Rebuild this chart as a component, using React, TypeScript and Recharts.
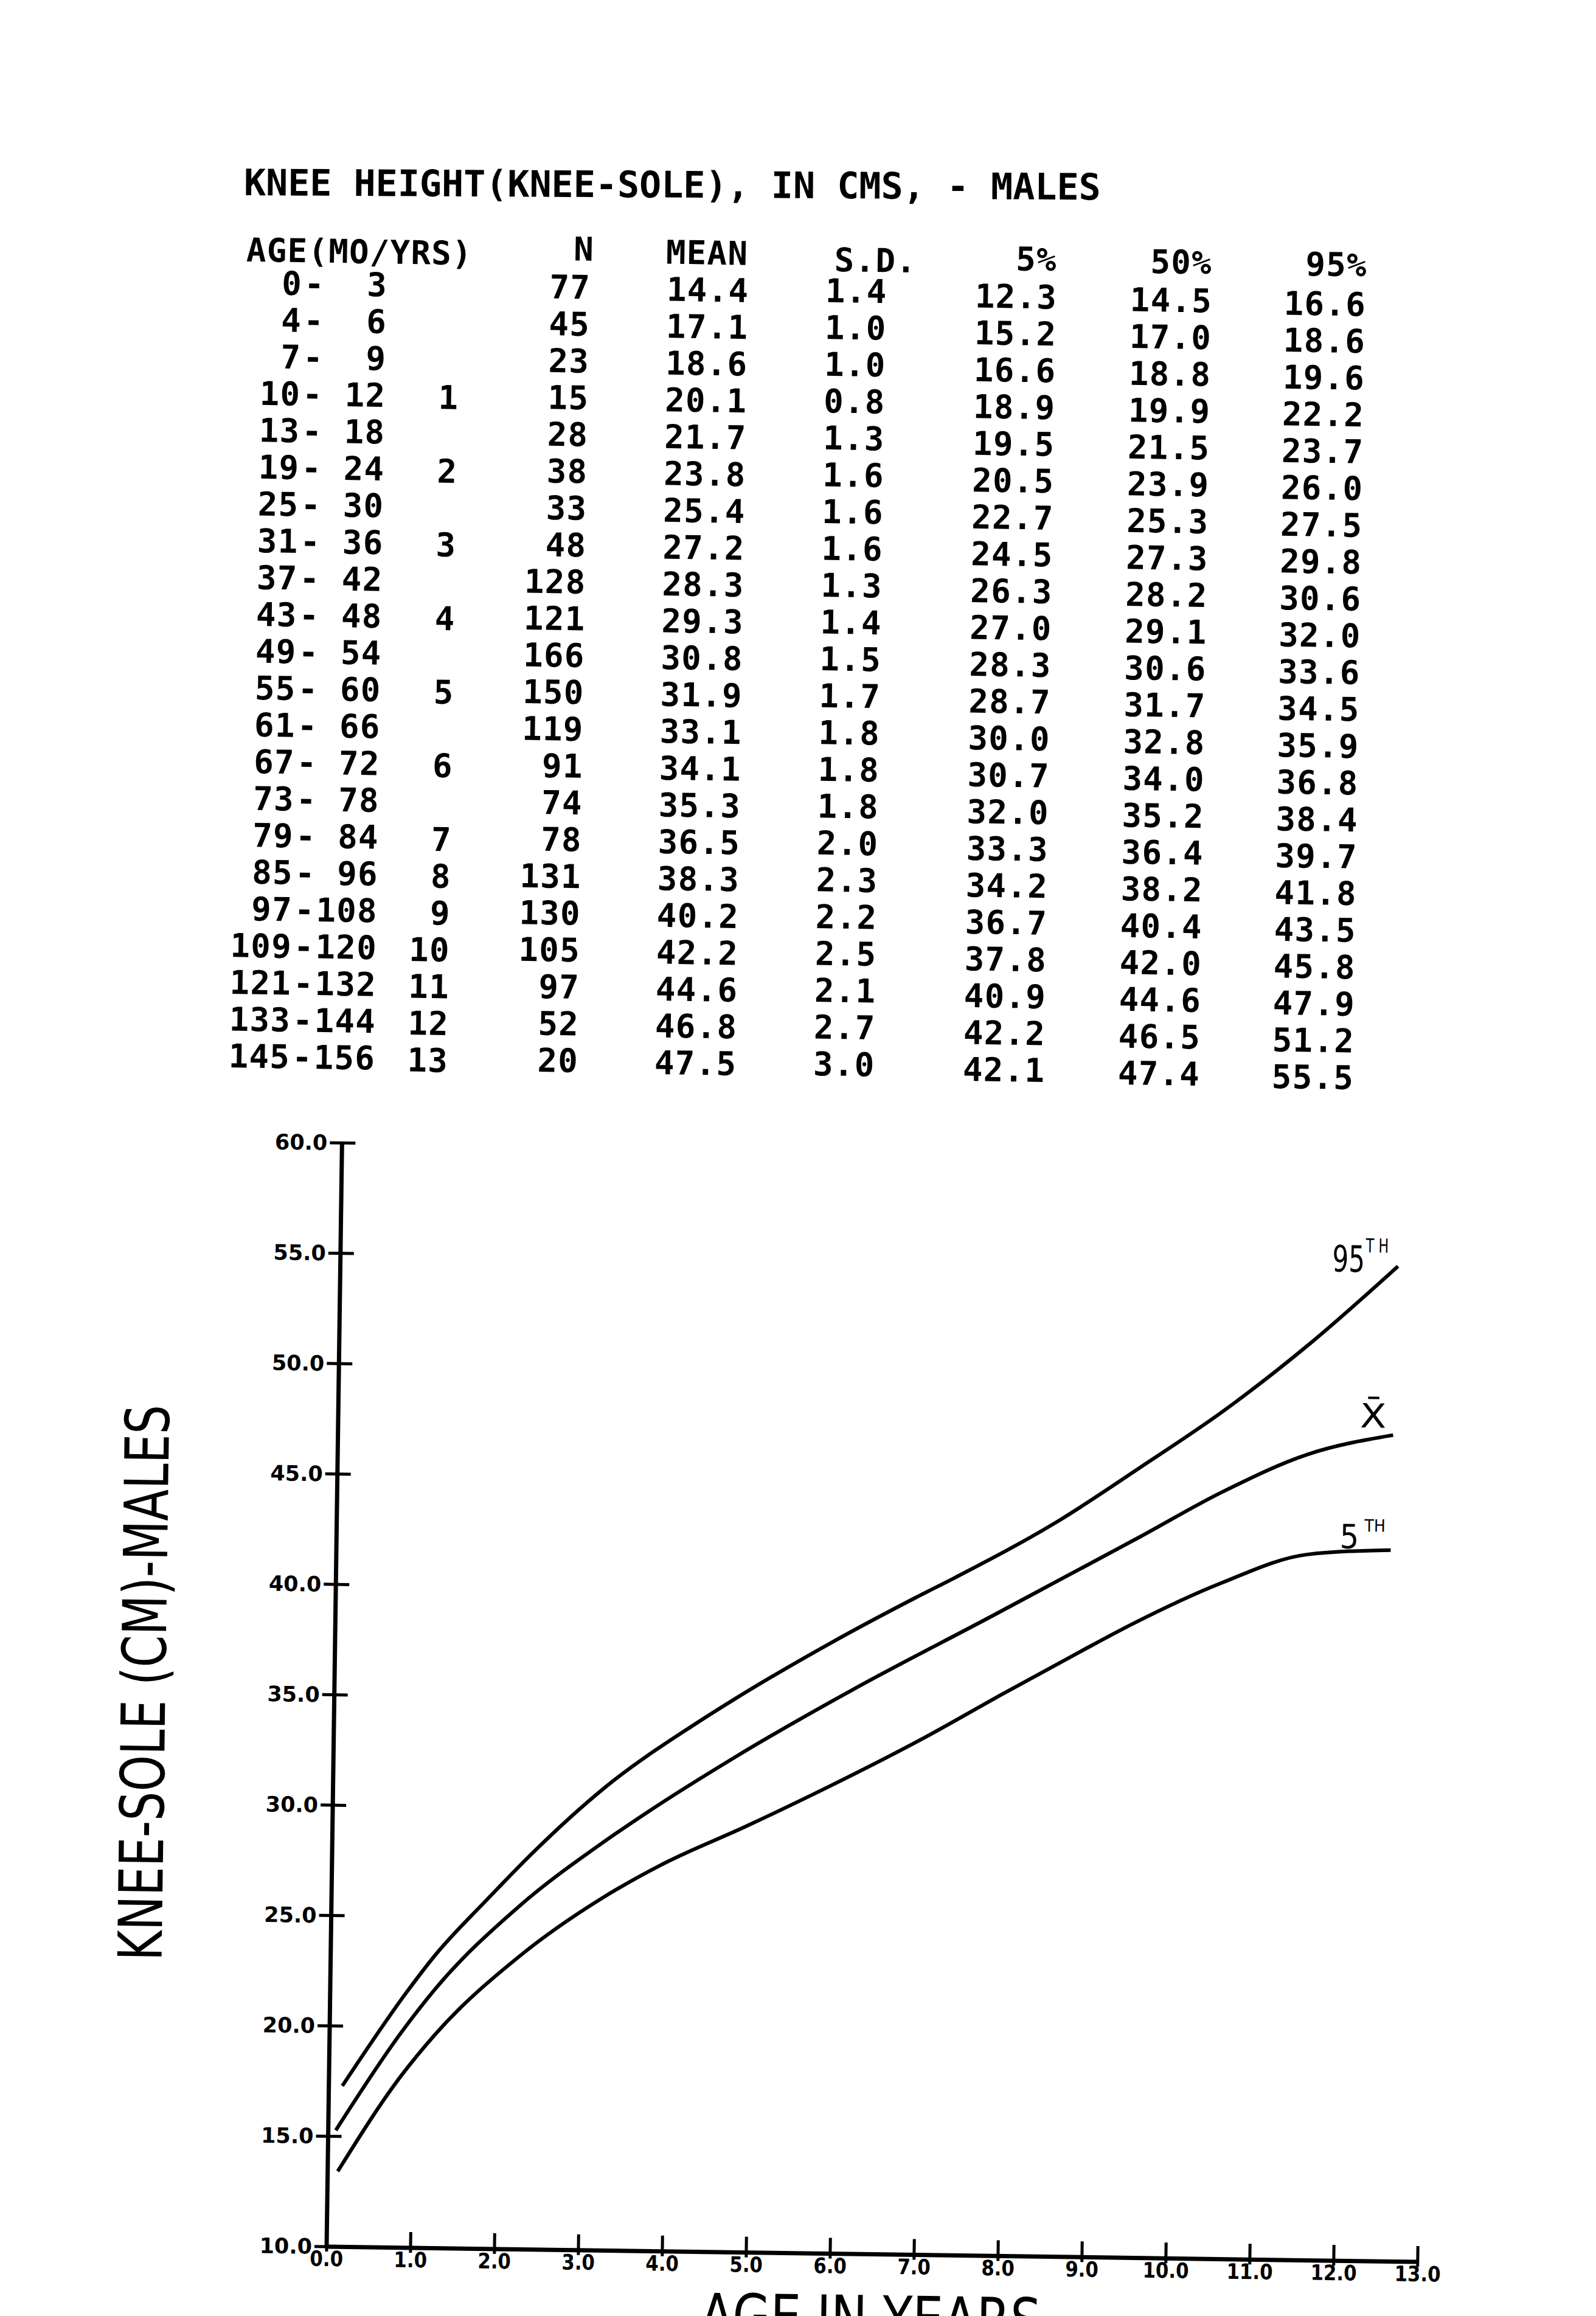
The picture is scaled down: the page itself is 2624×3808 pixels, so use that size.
import React from "react";
import { LineChart, Line, XAxis, YAxis, Label, LabelList } from "recharts";

// ---------------- table data ----------------
const titleText = "KNEE HEIGHT(KNEE-SOLE), IN CMS, - MALES";
const headerLabels = ["AGE(MO/YRS)", "N", "MEAN", "S.D.", "5%", "50%", "95%"];
const ageFromMonths = [0, 4, 7, 10, 13, 19, 25, 31, 37, 43, 49, 55, 61, 67, 73, 79, 85, 97, 109, 121, 133, 145];
const ageToMonths = [3, 6, 9, 12, 18, 24, 30, 36, 42, 48, 54, 60, 66, 72, 78, 84, 96, 108, 120, 132, 144, 156];
const ageYears = ["", "", "", "1", "", "2", "", "3", "", "4", "", "5", "", "6", "", "7", "8", "9", "10", "11", "12", "13"];
const sampleN = [77, 45, 23, 15, 28, 38, 33, 48, 128, 121, 166, 150, 119, 91, 74, 78, 131, 130, 105, 97, 52, 20];
const meanCm = [14.4, 17.1, 18.6, 20.1, 21.7, 23.8, 25.4, 27.2, 28.3, 29.3, 30.8, 31.9, 33.1, 34.1, 35.3, 36.5, 38.3, 40.2, 42.2, 44.6, 46.8, 47.5];
const sdCm = [1.4, 1.0, 1.0, 0.8, 1.3, 1.6, 1.6, 1.6, 1.3, 1.4, 1.5, 1.7, 1.8, 1.8, 1.8, 2.0, 2.3, 2.2, 2.5, 2.1, 2.7, 3.0];
const p5Cm = [12.3, 15.2, 16.6, 18.9, 19.5, 20.5, 22.7, 24.5, 26.3, 27.0, 28.3, 28.7, 30.0, 30.7, 32.0, 33.3, 34.2, 36.7, 37.8, 40.9, 42.2, 42.1];
const p50Cm = [14.5, 17.0, 18.8, 19.9, 21.5, 23.9, 25.3, 27.3, 28.2, 29.1, 30.6, 31.7, 32.8, 34.0, 35.2, 36.4, 38.2, 40.4, 42.0, 44.6, 46.5, 47.4];
const p95Cm = [16.6, 18.6, 19.6, 22.2, 23.7, 26.0, 27.5, 29.8, 30.6, 32.0, 33.6, 34.5, 35.9, 36.8, 38.4, 39.7, 41.8, 43.5, 45.8, 47.9, 51.2, 55.5];

// ---------------- curve data ----------------
const p95Curve = [
  { age: 0.16, v: 17.29 }, { age: 0.91, v: 21.57 }, { age: 1.23, v: 23.2 }, { age: 1.86, v: 25.85 },
  { age: 2.32, v: 27.7 }, { age: 3.26, v: 31.04 }, { age: 4.29, v: 33.87 }, { age: 4.77, v: 35.06 },
  { age: 5.9, v: 37.65 }, { age: 6.9, v: 39.75 }, { age: 7.38, v: 40.71 }, { age: 8.6, v: 43.34 },
  { age: 9.56, v: 45.8 }, { age: 10.56, v: 48.46 }, { age: 11.56, v: 51.51 }, { age: 12.6, v: 55.08 },
];
const meanCurve = [
  { age: 0.09, v: 15.28 }, { age: 0.85, v: 19.73 }, { age: 1.24, v: 21.69 }, { age: 2.24, v: 25.55 },
  { age: 3.21, v: 28.44 }, { age: 3.73, v: 29.83 }, { age: 4.78, v: 32.42 }, { age: 6.17, v: 35.55 },
  { age: 7.83, v: 39.0 }, { age: 8.61, v: 40.64 }, { age: 9.57, v: 42.66 }, { age: 10.53, v: 44.72 },
  { age: 11.56, v: 46.51 }, { age: 12.57, v: 47.43 },
];
const p5Curve = [
  { age: 0.12, v: 13.42 }, { age: 0.86, v: 17.79 }, { age: 1.25, v: 19.65 }, { age: 2.26, v: 23.31 },
  { age: 3.22, v: 25.95 }, { age: 3.92, v: 27.5 }, { age: 4.92, v: 29.29 }, { age: 5.92, v: 31.18 },
  { age: 7.06, v: 33.48 }, { age: 7.93, v: 35.39 }, { age: 8.89, v: 37.45 }, { age: 9.5, v: 38.72 },
  { age: 10.54, v: 40.61 }, { age: 11.57, v: 41.97 }, { age: 12.56, v: 42.22 },
];

const xTicks = [0, 1, 2, 3, 4, 5, 6, 7, 8, 9, 10, 11, 12, 13];
const yTicks = [10, 15, 20, 25, 30, 35, 40, 45, 50, 55, 60];
const xAxisTitle = "AGE IN YEARS";
const yAxisTitle = "KNEE-SOLE (CM)-MALES";

// ---------------- styling ----------------
const MONO = "'DejaVu Sans Mono', monospace";
const SANS = "'DejaVu Sans', sans-serif";
const INK = "#000";
const TABLE_FS = 54;
const TABLE_BASE = (0.729 * TABLE_FS) / 2;
const ROW_PITCH = 60.55;

function Sheet() {
  const rows = ageFromMonths.map((_, i) => i);
  const rowY = (first: number, i: number) => first + i * ROW_PITCH + TABLE_BASE;
  return (
    <svg width={2624} height={1900} style={{ position: "absolute", left: 0, top: 0 }}>
      <text
        x={401}
        y={321}
        transform="rotate(0.3 401 299)"
        fontFamily={MONO}
        fontWeight="bold"
        fontSize={60}
        fill={INK}
        style={{ whiteSpace: "pre" }}
      >
        {titleText}
      </text>
      <g
        transform="rotate(0.9 401 412)"
        fontFamily={MONO}
        fontWeight="bold"
        fontSize={TABLE_FS}
        fill={INK}
        style={{ letterSpacing: "1.3px" }}
      >
        <text x={405} y={410 + TABLE_BASE}>{headerLabels[0]}</text>
        <text x={960} y={400 + TABLE_BASE} textAnchor="middle">{headerLabels[1]}</text>
        <text x={1095} y={403 + TABLE_BASE}>{headerLabels[2]}</text>
        <text x={1372} y={411 + TABLE_BASE}>{headerLabels[3]}</text>
        <text x={1738} y={405 + TABLE_BASE} textAnchor="end">{headerLabels[4]}</text>
        <text x={1993} y={406 + TABLE_BASE} textAnchor="end">{headerLabels[5]}</text>
        <text x={2248} y={406 + TABLE_BASE} textAnchor="end">{headerLabels[6]}</text>
        {rows.map((i) => (
          <g key={i}>
            <text x={498} y={rowY(464, i)} textAnchor="end">{String(ageFromMonths[i])}</text>
            <text x={518} y={rowY(464, i)} textAnchor="middle">-</text>
            <text x={638} y={rowY(464, i)} textAnchor="end">{String(ageToMonths[i])}</text>
            <text x={758} y={rowY(466, i)} textAnchor="end">{ageYears[i]}</text>
            <text x={972} y={rowY(463, i)} textAnchor="end">{String(sampleN[i])}</text>
            <text x={1097} y={rowY(464, i)}>{meanCm[i].toFixed(1)}</text>
            <text x={1358} y={rowY(462, i)}>{sdCm[i].toFixed(1)}</text>
            <text x={1604} y={rowY(467, i)}>{p5Cm[i].toFixed(1)}</text>
            <text x={1859} y={rowY(469, i)}>{p50Cm[i].toFixed(1)}</text>
            <text x={2112} y={rowY(471, i)}>{p95Cm[i].toFixed(1)}</text>
          </g>
        ))}
      </g>
    </svg>
  );
}

function YTick(props: any) {
  const { x, y, payload } = props;
  const label = Number(payload.value).toFixed(1);
  return (
    <g>
      <line x1={x - 20} x2={x + 22} y1={y} y2={y} stroke={INK} strokeWidth={5} />
      <text x={x - 24} y={y + 12} textAnchor="end" fontFamily={SANS} fontWeight="bold" fontSize={35} fill={INK}>
        {label}
      </text>
    </g>
  );
}

function XTick(props: any) {
  const { x, y, payload } = props;
  const label = Number(payload.value).toFixed(1);
  return (
    <g>
      <line x1={x} x2={x} y1={y - 26} y2={y + 8} stroke={INK} strokeWidth={5} />
      <text
        transform={`translate(${x} ${y + 32}) scale(0.88 1)`}
        textAnchor="middle"
        fontFamily={SANS}
        fontWeight="bold"
        fontSize={35}
        fill={INK}
      >
        {label}
      </text>
    </g>
  );
}

function renderXTitle() {
  return (
    <text
      transform="translate(1433 2134) scale(0.8 1)"
      textAnchor="middle"
      fontFamily={SANS}
      fontSize={100}
      fill={INK}
    >
      {xAxisTitle}
    </text>
  );
}

function renderYTitle() {
  return (
    <text
      transform={`translate(${223 + 36} 1071) rotate(-90) scale(0.76 1)`}
      textAnchor="middle"
      fontFamily={SANS}
      fontSize={100}
      fill={INK}
    >
      {yAxisTitle}
    </text>
  );
}

function makeEndLabel(kind: "p95" | "mean" | "p5", lastIndex: number) {
  return (props: any) => {
    if (props.index !== lastIndex) return null;
    const x = Number(props.x ?? props.viewBox?.x);
    const y = Number(props.y ?? props.viewBox?.y);
    if (kind === "p95") {
      return (
        <text transform={`translate(${x - 108} ${y + 10}) scale(0.7 1)`} fontFamily={SANS} fill={INK}>
          <tspan fontSize={60}>95</tspan>
          <tspan fontSize={32} dy={-32} dx={2} style={{ letterSpacing: "10px" }}>TH</tspan>
        </text>
      );
    }
    if (kind === "mean") {
      return (
        <text transform={`translate(${x - 55} ${y - 12}) scale(1.15 1)`} fontFamily={SANS} fontSize={55} fill={INK}>
          {"X\u0304"}
        </text>
      );
    }
    return (
      <text transform={`translate(${x - 84} ${y - 2}) scale(0.9 1)`} fontFamily={SANS} fill={INK}>
        <tspan fontSize={55}>5</tspan>
        <tspan fontSize={28} dy={-28} dx={10}>TH</tspan>
      </text>
    );
  };
}

function KneeChart() {
  return (
    <div
      style={{
        position: "absolute",
        left: 0,
        top: 1700,
        width: 2624,
        height: 2250,
        transform: "rotate(0.8deg)",
        transformOrigin: "537px 1994px",
      }}
    >
      <LineChart width={2624} height={2250} margin={{ top: 179, right: 293, bottom: 96, left: 377 }}>
        <XAxis
          type="number"
          dataKey="age"
          domain={[0, 13]}
          ticks={xTicks}
          interval={0}
          height={160}
          tickSize={0}
          tickMargin={0}
          tickLine={false}
          axisLine={{ stroke: INK, strokeWidth: 7 }}
          tick={(p: any) => <XTick {...p} />}
        >
          <Label content={renderXTitle} />
        </XAxis>
        <YAxis
          type="number"
          domain={[10, 60]}
          ticks={yTicks}
          interval={0}
          width={160}
          tickSize={0}
          tickMargin={0}
          tickLine={false}
          axisLine={{ stroke: INK, strokeWidth: 7 }}
          tick={(p: any) => <YTick {...p} />}
        >
          <Label content={renderYTitle} />
        </YAxis>
        <Line data={p95Curve} dataKey="v" type="monotone" stroke={INK} strokeWidth={6} dot={false} isAnimationActive={false}>
          <LabelList dataKey="v" content={makeEndLabel("p95", p95Curve.length - 1)} />
        </Line>
        <Line data={meanCurve} dataKey="v" type="monotone" stroke={INK} strokeWidth={6} dot={false} isAnimationActive={false}>
          <LabelList dataKey="v" content={makeEndLabel("mean", meanCurve.length - 1)} />
        </Line>
        <Line data={p5Curve} dataKey="v" type="monotone" stroke={INK} strokeWidth={6} dot={false} isAnimationActive={false}>
          <LabelList dataKey="v" content={makeEndLabel("p5", p5Curve.length - 1)} />
        </Line>
      </LineChart>
    </div>
  );
}

export default function App() {
  return (
    <div
      style={{
        position: "fixed",
        left: 0,
        top: 0,
        width: 2624,
        height: 3808,
        overflow: "hidden",
        background: "#fff",
      }}
    >
      <Sheet />
      <KneeChart />
    </div>
  );
}
